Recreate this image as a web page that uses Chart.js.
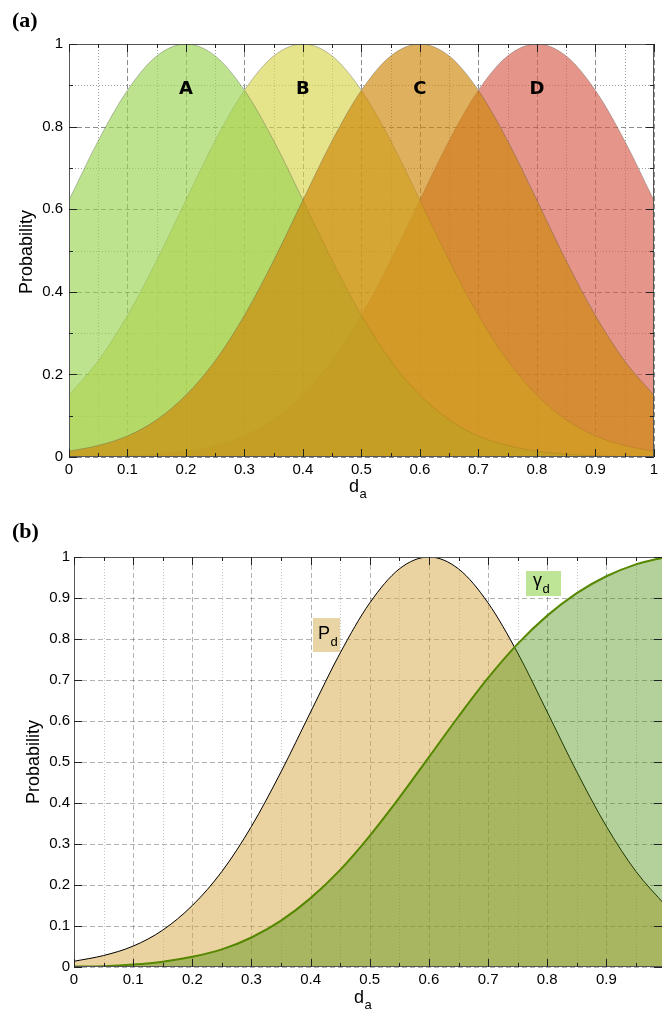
<!DOCTYPE html>
<html>
<head>
<meta charset="utf-8">
<script src="https://cdn.jsdelivr.net/npm/chart.js@4.4.1/dist/chart.umd.min.js"></script>
<style>
  body { margin: 0; background: #fff; width: 662px; height: 1013px; overflow: hidden; position: relative; }
  canvas { position: absolute; left: 0; }
  #chartA { top: 0; }
  #chartB { top: 505px; }
</style>
</head>
<body>
<canvas id="chartA" width="662" height="505"></canvas>
<canvas id="chartB" width="662" height="508"></canvas>
<script>
// sampling points along d_a
const da = [0, 0.05, 0.1, 0.15, 0.2, 0.25, 0.3, 0.35, 0.4, 0.45, 0.5,
            0.55, 0.6, 0.65, 0.7, 0.75, 0.8, 0.85, 0.9, 0.95, 1];

// panel (a): the four class curves
const probA = [0.622, 0.766, 0.888, 0.971, 1, 0.971, 0.888, 0.766, 0.622, 0.476, 0.343,
               0.233, 0.150, 0.090, 0.051, 0.028, 0.014, 0.007, 0.003, 0.001, 0.0005];
const probB = [0.150, 0.233, 0.343, 0.476, 0.622, 0.766, 0.888, 0.971, 1, 0.971, 0.888,
               0.766, 0.622, 0.476, 0.343, 0.233, 0.150, 0.090, 0.051, 0.028, 0.014];
const probC = [0.014, 0.028, 0.051, 0.090, 0.150, 0.233, 0.343, 0.476, 0.622, 0.766, 0.888,
               0.971, 1, 0.971, 0.888, 0.766, 0.622, 0.476, 0.343, 0.233, 0.150];
const probD = [0.0005, 0.001, 0.003, 0.007, 0.014, 0.028, 0.051, 0.090, 0.150, 0.233, 0.343,
               0.476, 0.622, 0.766, 0.888, 0.971, 1, 0.971, 0.888, 0.766, 0.622];
const classNames = ['A', 'B', 'C', 'D'];
const classCenters = [0.2, 0.4, 0.6, 0.8];

// panel (b): P_d and gamma_d
const pd = [0.014, 0.028, 0.051, 0.090, 0.150, 0.233, 0.343, 0.476, 0.622, 0.766, 0.888,
            0.971, 1, 0.971, 0.888, 0.766, 0.622, 0.476, 0.343, 0.233, 0.150];
const gammaD = [0.001, 0.002, 0.006, 0.013, 0.025, 0.043, 0.072, 0.113, 0.168, 0.237, 0.320,
                0.413, 0.512, 0.611, 0.705, 0.788, 0.857, 0.912, 0.953, 0.982, 1];

const pts = ys => ys.map((y, i) => ({ x: da[i], y: y }));

const SANS = '"Liberation Sans", Arial, sans-serif';

function isMajor(v, step) {
  return Math.abs(Math.round(v / step) * step - v) < 1e-6;
}
function fmt(v) {
  return String(Number(v.toFixed(2)));
}

// grid, frame, inward ticks and all the loose text
const panel = {
  id: 'panel',
  beforeDatasetsDraw(chart, args, o) {
    const { ctx, chartArea: a, scales: { x, y } } = chart;
    ctx.save();
    ctx.lineWidth = 1;
    x.ticks.forEach(t => {
      const major = isMajor(t.value, o.xMajor);
      const px = Math.round(x.getPixelForValue(t.value)) + 0.5;
      ctx.strokeStyle = major ? o.majorColor : o.minorColor;
      ctx.setLineDash(major ? [5, 3] : [1, 2]);
      ctx.beginPath(); ctx.moveTo(px, a.top); ctx.lineTo(px, a.bottom); ctx.stroke();
    });
    y.ticks.forEach(t => {
      const major = isMajor(t.value, o.yMajor);
      const py = Math.round(y.getPixelForValue(t.value)) + 0.5;
      ctx.strokeStyle = major ? o.majorColor : o.minorColor;
      ctx.setLineDash(major ? [5, 3] : [1, 2]);
      ctx.beginPath(); ctx.moveTo(a.left, py); ctx.lineTo(a.right, py); ctx.stroke();
    });
    ctx.restore();
  },
  afterDatasetsDraw(chart, args, o) {
    const { ctx, chartArea: a, scales: { x, y } } = chart;
    ctx.save();
    ctx.setLineDash([]);
    ctx.lineWidth = 1;
    // frame
    ctx.strokeStyle = o.frameColor;
    const L = Math.round(a.left) + 0.5, R = Math.round(a.right) - 0.5;
    const T = Math.round(a.top) + 0.5, B = Math.round(a.bottom) - 0.5;
    ctx.beginPath();
    ctx.moveTo(L, B); ctx.lineTo(L, T); ctx.lineTo(o.rightFrame ? R : a.right, T);
    if (o.rightFrame) ctx.lineTo(R, B);
    ctx.moveTo(L, B); ctx.lineTo(a.right, B);
    ctx.stroke();
    // inward ticks on all sides
    ctx.strokeStyle = '#222';
    ctx.beginPath();
    x.ticks.forEach(t => {
      const len = isMajor(t.value, o.xMajor) ? 8 : 4;
      const px = Math.round(x.getPixelForValue(t.value)) + 0.5;
      ctx.moveTo(px, a.bottom); ctx.lineTo(px, a.bottom - len);
      ctx.moveTo(px, a.top); ctx.lineTo(px, a.top + len);
    });
    y.ticks.forEach(t => {
      const len = isMajor(t.value, o.yMajor) ? 8 : 4;
      const py = Math.round(y.getPixelForValue(t.value)) + 0.5;
      ctx.moveTo(a.left, py); ctx.lineTo(a.left + len, py);
      ctx.moveTo(a.right, py); ctx.lineTo(a.right - len, py);
    });
    ctx.stroke();

    ctx.fillStyle = '#000';
    // panel tag
    ctx.font = 'bold 22px "Liberation Serif", "Times New Roman", serif';
    ctx.textAlign = 'left';
    ctx.textBaseline = 'alphabetic';
    ctx.fillText(o.tag, 12, o.tagY);

    // y title
    ctx.save();
    ctx.translate(o.yTitleX, o.yTitleY);
    ctx.rotate(-Math.PI / 2);
    ctx.font = '18px ' + SANS;
    ctx.textAlign = 'center';
    ctx.fillText('Probability', 0, 0);
    ctx.restore();

    // x title d_a
    ctx.font = '18px ' + SANS;
    ctx.textAlign = 'left';
    ctx.fillText('d', o.xTitleX, o.xTitleY);
    const dw = ctx.measureText('d').width;
    ctx.font = '13px ' + SANS;
    ctx.fillText('a', o.xTitleX + dw + 0.5, o.xTitleY + 6);

    // curve names in panel (a)
    if (o.names) {
      ctx.font = 'bold 18px "DejaVu Sans", sans-serif';
      ctx.textAlign = 'center';
      ctx.textBaseline = 'middle';
      o.names.forEach((n, i) => {
        ctx.fillText(n, x.getPixelForValue(o.nameX[i]), y.getPixelForValue(0.89));
      });
    }

    // boxed curve labels in panel (b)
    if (o.boxes) {
      o.boxes.forEach(bx => {
        ctx.fillStyle = bx.bg;
        ctx.fillRect(bx.x, bx.y, bx.w, bx.h);
        ctx.fillStyle = '#000';
        ctx.textAlign = 'left';
        ctx.textBaseline = 'alphabetic';
        ctx.font = '18px ' + SANS;
        ctx.fillText(bx.main, bx.x + bx.tx, bx.y + bx.ty);
        const mw = ctx.measureText(bx.main).width;
        ctx.font = '13px ' + SANS;
        ctx.fillText(bx.sub, bx.x + bx.tx + mw + 0.5, bx.y + bx.ty + bx.subDy);
      });
    }
    ctx.restore();
  }
};

function axes(xMax, xStep, yStep, yPad, xH, yW) {
  const tickFont = { family: SANS, size: 15 };
  return {
    x: {
      type: 'linear', min: 0, max: xMax,
      grid: { display: false, drawTicks: false }, border: { display: false },
      ticks: {
        stepSize: 0.05, autoSkip: false, includeBounds: false, maxRotation: 0,
        padding: 4, color: '#000', font: tickFont,
        callback: v => isMajor(v, xStep) ? fmt(v) : ''
      },
      afterFit: s => { s.height = xH; }
    },
    y: {
      min: 0, max: 1,
      grid: { display: false, drawTicks: false }, border: { display: false },
      ticks: {
        stepSize: 0.1, autoSkip: false, includeBounds: false,
        padding: yPad, color: '#000', font: tickFont,
        callback: v => isMajor(v, yStep) ? fmt(v) : ''
      },
      afterFit: s => { s.width = yW; }
    }
  };
}

function curve(ys, fill, line, width, order) {
  return {
    data: pts(ys),
    backgroundColor: fill,
    borderColor: line,
    borderWidth: width,
    fill: 'origin',
    pointRadius: 0,
    cubicInterpolationMode: 'monotone',
    order: order
  };
}

// panel (a)
new Chart(document.getElementById('chartA'), {
  type: 'line',
  data: {
    datasets: [
      curve(probA, 'rgba(154,212,83,0.65)', 'rgba(80,80,80,0.35)', 1, 1),
      curve(probB, 'rgba(217,214,75,0.65)', 'rgba(80,80,80,0.35)', 1, 2),
      curve(probC, 'rgba(206,134,8,0.65)', 'rgba(80,80,80,0.35)', 1, 0),
      curve(probD, 'rgba(217,92,75,0.65)', 'rgba(80,80,80,0.35)', 1, 3)
    ]
  },
  options: {
    responsive: false,
    animation: false,
    layout: { padding: { top: 44, right: 4, left: 0, bottom: 0 } },
    scales: axes(1, 0.1, 0.2, 6, 48, 69),
    plugins: {
      legend: { display: false },
      tooltip: { enabled: false },
      panel: {
        tag: '(a)', tagY: 27,
        xMajor: 0.1, yMajor: 0.2,
        majorColor: 'rgba(0,0,0,0.45)', minorColor: 'rgba(0,0,0,0.38)',
        frameColor: '#555', rightFrame: true,
        yTitleX: 32, yTitleY: 252,
        xTitleX: 349, xTitleY: 492,
        names: classNames, nameX: classCenters
      }
    }
  },
  plugins: [panel]
});

// panel (b)
new Chart(document.getElementById('chartB'), {
  type: 'line',
  data: {
    datasets: [
      curve(pd, 'rgba(213,167,67,0.5)', '#000', 1, 1),
      curve(gammaD, 'rgba(70,140,5,0.4)', 'rgb(85,135,0)', 2, 0)
    ]
  },
  options: {
    responsive: false,
    animation: false,
    layout: { padding: { top: 52, right: 0, left: 0, bottom: 0 } },
    scales: axes(0.994, 0.1, 0.1, 4, 46, 74),
    plugins: {
      legend: { display: false },
      tooltip: { enabled: false },
      panel: {
        tag: '(b)', tagY: 33,
        xMajor: 0.1, yMajor: 0.1,
        majorColor: 'rgba(0,0,0,0.3)', minorColor: 'rgba(0,0,0,0.22)',
        frameColor: '#555', rightFrame: false,
        yTitleX: 39, yTitleY: 257,
        xTitleX: 354, xTitleY: 498,
        boxes: [
          { main: 'P', sub: 'd', x: 313, y: 113, w: 27, h: 34, tx: 5, ty: 21, subDy: 7, bg: 'rgb(233,212,165)' },
          { main: '\u03b3', sub: 'd', x: 526, y: 66, w: 35, h: 25, tx: 7, ty: 15, subDy: 7, bg: 'rgb(190,228,150)' }
        ]
      }
    }
  },
  plugins: [panel]
});
</script>
</body>
</html>
